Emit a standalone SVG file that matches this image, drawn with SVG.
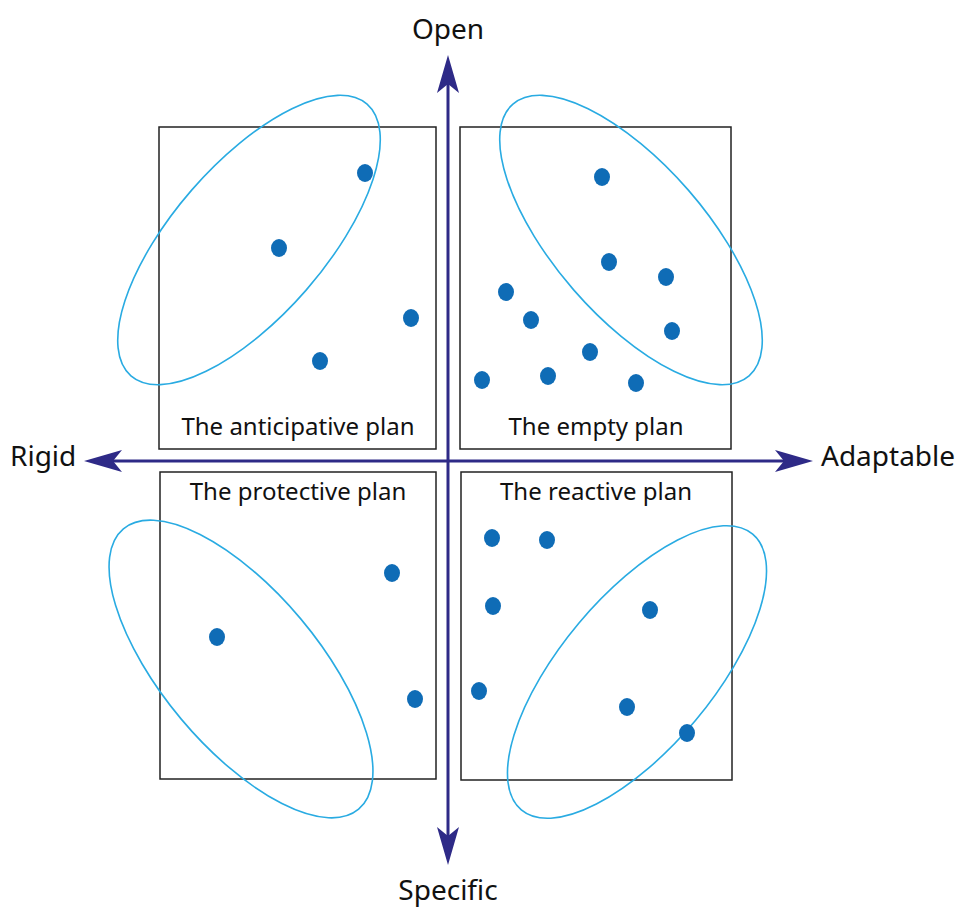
<svg xmlns="http://www.w3.org/2000/svg" width="957" height="909" viewBox="0 0 957 909">
<style>
text{font-family:"Noto Sans","Open Sans","Liberation Sans",sans-serif;fill:#111}
.ax{font-size:28px}
.lb{font-size:24px;text-anchor:middle}
.box{fill:none;stroke:#222;stroke-width:1.5}
.ell{fill:none;stroke:#29abe2;stroke-width:1.6}
.dot{fill:#0f6cb6}
.axis{fill:none;stroke:#2e2a87;stroke-width:3}
</style>
<defs>
<marker id="ah" markerUnits="userSpaceOnUse" markerWidth="40" markerHeight="24" refX="9" refY="11" orient="auto-start-reverse" viewBox="0 0 40 24">
<path d="M0,0 L38,11 L0,22 L9,11 Z" fill="#2e2a87"/>
</marker>
</defs>
<g id="q-anticipative">
<rect class="box" x="159" y="127" width="277" height="322"/>
<ellipse class="ell" cx="249" cy="240" rx="180" ry="76" transform="rotate(-49 249 240)"/>
<ellipse class="dot" cx="365" cy="173" rx="8" ry="9"/>
<ellipse class="dot" cx="279" cy="248" rx="8" ry="9"/>
<ellipse class="dot" cx="411" cy="318" rx="8" ry="9"/>
<ellipse class="dot" cx="320" cy="361" rx="8" ry="9"/>
<text class="lb" x="298" y="435">The anticipative plan</text>
</g>
<g id="q-empty">
<rect class="box" x="460" y="127" width="271" height="322"/>
<ellipse class="ell" cx="631" cy="240" rx="180" ry="76" transform="rotate(49 631 240)"/>
<ellipse class="dot" cx="602" cy="177" rx="8" ry="9"/>
<ellipse class="dot" cx="609" cy="262" rx="8" ry="9"/>
<ellipse class="dot" cx="666" cy="277" rx="8" ry="9"/>
<ellipse class="dot" cx="506" cy="292" rx="8" ry="9"/>
<ellipse class="dot" cx="531" cy="320" rx="8" ry="9"/>
<ellipse class="dot" cx="672" cy="331" rx="8" ry="9"/>
<ellipse class="dot" cx="590" cy="352" rx="8" ry="9"/>
<ellipse class="dot" cx="482" cy="380" rx="8" ry="9"/>
<ellipse class="dot" cx="548" cy="376" rx="8" ry="9"/>
<ellipse class="dot" cx="636" cy="383" rx="8" ry="9"/>
<text class="lb" x="596" y="435">The empty plan</text>
</g>
<g id="q-protective">
<rect class="box" x="160" y="472" width="276" height="307"/>
<ellipse class="ell" cx="241" cy="669" rx="183" ry="78" transform="rotate(50 241 669)"/>
<ellipse class="dot" cx="392" cy="573" rx="8" ry="9"/>
<ellipse class="dot" cx="217" cy="637" rx="8" ry="9"/>
<ellipse class="dot" cx="415" cy="699" rx="8" ry="9"/>
<text class="lb" x="298" y="500">The protective plan</text>
</g>
<g id="q-reactive">
<rect class="box" x="461" y="472" width="271" height="308"/>
<ellipse class="ell" cx="637" cy="672" rx="180" ry="76" transform="rotate(-50 637 672)"/>
<ellipse class="dot" cx="492" cy="538" rx="8" ry="9"/>
<ellipse class="dot" cx="547" cy="540" rx="8" ry="9"/>
<ellipse class="dot" cx="493" cy="606" rx="8" ry="9"/>
<ellipse class="dot" cx="650" cy="610" rx="8" ry="9"/>
<ellipse class="dot" cx="479" cy="691" rx="8" ry="9"/>
<ellipse class="dot" cx="627" cy="707" rx="8" ry="9"/>
<ellipse class="dot" cx="687" cy="733" rx="8" ry="9"/>
<text class="lb" x="596" y="500">The reactive plan</text>
</g>
<g id="axes">
<path class="axis" d="M448,836 L448,84" marker-start="url(#ah)" marker-end="url(#ah)"/>
<path class="axis" d="M113,461 L784,461" marker-start="url(#ah)" marker-end="url(#ah)"/>
</g>
<g id="axis-labels">
<text class="ax" x="448" y="39" text-anchor="middle">Open</text>
<text class="ax" x="448" y="900" text-anchor="middle">Specific</text>
<text class="ax" x="10" y="466">Rigid</text>
<text class="ax" x="821" y="466">Adaptable</text>
</g>
</svg>
